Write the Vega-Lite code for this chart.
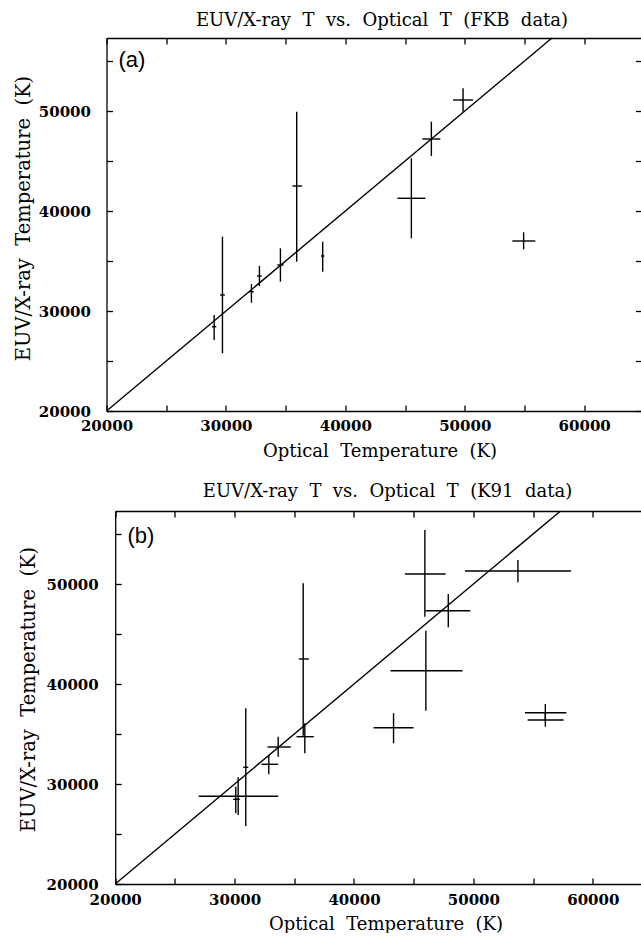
{
  "$schema": "https://vega.github.io/schema/vega-lite/v6.json",
  "padding": {"left": 12.5, "top": 12, "right": 0, "bottom": 0},
  "config": {
    "view": {"stroke": null},
    "font": "DejaVu Serif",
    "axis": {
      "grid": false,
      "domainColor": "black", "domainWidth": 1.3,
      "tickColor": "black", "tickWidth": 1.3, "tickSize": -6,
      "labelFont": "DejaVu Serif", "labelFontWeight": "bold", "labelFontSize": 15, "labelColor": "black",
      "labelOverlap": false, "labelFlush": false,
      "titleFont": "DejaVu Serif", "titleFontWeight": "normal", "titleFontSize": 18, "titleColor": "black"
    },
    "title": {"font": "DejaVu Serif", "fontSize": 18, "fontWeight": "normal", "color": "black", "baseline": "alphabetic", "anchor": "middle"}
  },
  "datasets": {
    "fkb": [
      {"x": 29015, "xlo": 28835, "xhi": 29195, "y": 28430, "ylo": 27100, "yhi": 29600},
      {"x": 29710, "xlo": 29510, "xhi": 29910, "y": 31600, "ylo": 25770, "yhi": 37430},
      {"x": 32137, "xlo": 31937, "xhi": 32337, "y": 31930, "ylo": 30830, "yhi": 32700},
      {"x": 32806, "xlo": 32606, "xhi": 33006, "y": 33500, "ylo": 32500, "yhi": 34500},
      {"x": 34564, "xlo": 34300, "xhi": 34830, "y": 34600, "ylo": 32930, "yhi": 36270},
      {"x": 35928, "xlo": 35568, "xhi": 36380, "y": 42500, "ylo": 34930, "yhi": 49930},
      {"x": 38104, "xlo": 37964, "xhi": 38244, "y": 35500, "ylo": 33930, "yhi": 36930},
      {"x": 45529, "xlo": 44357, "xhi": 46701, "y": 41270, "ylo": 37270, "yhi": 45270},
      {"x": 47203, "xlo": 46449, "xhi": 47956, "y": 47200, "ylo": 45500, "yhi": 48930},
      {"x": 49856, "xlo": 49019, "xhi": 50693, "y": 51100, "ylo": 49930, "yhi": 52270},
      {"x": 54929, "xlo": 53982, "xhi": 55907, "y": 37000, "ylo": 36170, "yhi": 37870}
    ],
    "k91": [
      {"x": 30098, "xlo": 29880, "xhi": 30433, "y": 28470, "ylo": 27070, "yhi": 29730},
      {"x": 30299, "xlo": 26997, "xhi": 33651, "y": 28770, "ylo": 26900, "yhi": 30670},
      {"x": 30936, "xlo": 30726, "xhi": 31146, "y": 31670, "ylo": 25800, "yhi": 37570},
      {"x": 32863, "xlo": 32252, "xhi": 33651, "y": 31970, "ylo": 30970, "yhi": 32900},
      {"x": 33651, "xlo": 32754, "xhi": 34707, "y": 33700, "ylo": 32730, "yhi": 34730},
      {"x": 35746, "xlo": 35378, "xhi": 36216, "y": 42500, "ylo": 34830, "yhi": 50070},
      {"x": 35880, "xlo": 35185, "xhi": 36635, "y": 34730, "ylo": 33070, "yhi": 36070},
      {"x": 43313, "xlo": 41637, "xhi": 44989, "y": 35630, "ylo": 34070, "yhi": 37070},
      {"x": 46020, "xlo": 43062, "xhi": 49087, "y": 41330, "ylo": 37330, "yhi": 45330},
      {"x": 45936, "xlo": 44260, "xhi": 47671, "y": 51000, "ylo": 46730, "yhi": 55400},
      {"x": 47897, "xlo": 45996, "xhi": 49740, "y": 47330, "ylo": 45670, "yhi": 49000},
      {"x": 53730, "xlo": 49288, "xhi": 58171, "y": 51300, "ylo": 50170, "yhi": 52400},
      {"x": 56025, "xlo": 54316, "xhi": 57786, "y": 37130, "ylo": 36300, "yhi": 38000},
      {"x": 56025, "xlo": 54543, "xhi": 57560, "y": 36400, "ylo": 35730, "yhi": 37100}
    ],
    "diag": [{"x": 20000, "y": 20000, "x2": 57300, "y2": 57300}]
  },
  "concat": [
    {
      "width": 535, "height": 373,
      "title": {"text": "EUV/X-ray\u00a0 T\u00a0 vs.\u00a0 Optical\u00a0 T\u00a0 (FKB\u00a0 data)", "offset": 7, "dx": 8},
      "layer": [
        {
          "data": {"name": "fkb"},
          "mark": {"type": "rule", "color": "black", "strokeWidth": 1.4},
          "encoding": {
            "x": {"field": "x", "type": "quantitative", "scale": {"domain": [20000, 64800], "nice": false, "zero": false},
              "axis": {"orient": "bottom", "values": [20000, 25000, 30000, 35000, 40000, 45000, 50000, 55000, 60000],
                "labelExpr": "datum.value % 10000 === 0 ? format(datum.value, 'd') : ''",
                "title": "Optical\u00a0 Temperature\u00a0 (K)", "labelPadding": 13, "titlePadding": 9, "titleX": 273}},
            "y": {"field": "ylo", "type": "quantitative", "scale": {"domain": [20000, 57300], "nice": false, "zero": false},
              "axis": {"orient": "left", "values": [20000, 25000, 30000, 35000, 40000, 45000, 50000, 55000],
                "labelExpr": "datum.value % 10000 === 0 ? format(datum.value, 'd') : ''",
                "title": "EUV/X-ray\u00a0 Temperature\u00a0 (K)", "titleFontSize": 19.5, "labelPadding": 22, "titlePadding": 5, "titleY": 180}},
            "y2": {"field": "yhi"}
          }
        },
        {
          "data": {"name": "fkb"},
          "mark": {"type": "rule", "color": "black", "strokeWidth": 1.4},
          "encoding": {
            "x": {"field": "xlo", "type": "quantitative", "scale": {"domain": [20000, 64800], "nice": false, "zero": false}, "axis": null},
            "x2": {"field": "xhi"},
            "y": {"field": "y", "type": "quantitative", "scale": {"domain": [20000, 57300], "nice": false, "zero": false}, "axis": null}
          }
        },
        {
          "data": {"name": "diag"},
          "mark": {"type": "rule", "color": "black", "strokeWidth": 1.4},
          "encoding": {
            "x": {"field": "x", "type": "quantitative", "scale": {"domain": [20000, 64800], "nice": false, "zero": false},
              "axis": {"orient": "top", "labels": false, "title": null, "values": [20000, 25000, 30000, 35000, 40000, 45000, 50000, 55000, 60000]}},
            "x2": {"field": "x2"},
            "y": {"field": "y", "type": "quantitative", "scale": {"domain": [20000, 57300], "nice": false, "zero": false},
              "axis": {"orient": "right", "labels": false, "title": null, "values": [20000, 25000, 30000, 35000, 40000, 45000, 50000, 55000]}},
            "y2": {"field": "y2"}
          }
        },
        {
          "data": {"values": [{"x": 21005, "y": 54430, "label": "(a)"}]},
          "mark": {"type": "text", "font": "Liberation Sans", "fontSize": 22, "align": "left", "baseline": "alphabetic", "color": "black"},
          "encoding": {
            "x": {"field": "x", "type": "quantitative", "scale": {"domain": [20000, 64800], "nice": false, "zero": false}, "axis": null},
            "y": {"field": "y", "type": "quantitative", "scale": {"domain": [20000, 57300], "nice": false, "zero": false}, "axis": null},
            "text": {"field": "label"}
          }
        }
      ],
      "resolve": {"axis": {"x": "independent", "y": "independent"}}
    },
    {
      "width": 536, "height": 373,
      "title": {"text": "EUV/X-ray\u00a0 T\u00a0 vs.\u00a0 Optical\u00a0 T\u00a0 (K91\u00a0 data)", "offset": 9.5, "dx": 13},
      "layer": [
        {
          "data": {"name": "k91"},
          "mark": {"type": "rule", "color": "black", "strokeWidth": 1.4},
          "encoding": {
            "x": {"field": "x", "type": "quantitative", "scale": {"domain": [20000, 64163], "nice": false, "zero": false, "rangeMin": 8.7},
              "axis": {"orient": "bottom", "values": [20000, 25000, 30000, 35000, 40000, 45000, 50000, 55000, 60000],
                "labelExpr": "datum.value % 10000 === 0 ? format(datum.value, 'd') : ''",
                "title": "Optical\u00a0 Temperature\u00a0 (K)", "labelPadding": 14, "titlePadding": 8, "titleX": 279}},
            "y": {"field": "ylo", "type": "quantitative", "scale": {"domain": [20000, 57300], "nice": false, "zero": false},
              "axis": {"orient": "left", "offset": -8.7, "values": [20000, 25000, 30000, 35000, 40000, 45000, 50000, 55000],
                "labelExpr": "datum.value % 10000 === 0 ? format(datum.value, 'd') : ''",
                "title": "EUV/X-ray\u00a0 Temperature\u00a0 (K)", "titleFontSize": 19.5, "labelPadding": 23, "titlePadding": 7.5, "titleY": 178}},
            "y2": {"field": "yhi"}
          }
        },
        {
          "data": {"name": "k91"},
          "mark": {"type": "rule", "color": "black", "strokeWidth": 1.4},
          "encoding": {
            "x": {"field": "xlo", "type": "quantitative", "scale": {"domain": [20000, 64163], "nice": false, "zero": false, "rangeMin": 8.7}, "axis": null},
            "x2": {"field": "xhi"},
            "y": {"field": "y", "type": "quantitative", "scale": {"domain": [20000, 57300], "nice": false, "zero": false}, "axis": null}
          }
        },
        {
          "data": {"name": "diag"},
          "mark": {"type": "rule", "color": "black", "strokeWidth": 1.4},
          "encoding": {
            "x": {"field": "x", "type": "quantitative", "scale": {"domain": [20000, 64163], "nice": false, "zero": false, "rangeMin": 8.7},
              "axis": {"orient": "top", "labels": false, "title": null, "values": [20000, 25000, 30000, 35000, 40000, 45000, 50000, 55000, 60000]}},
            "x2": {"field": "x2"},
            "y": {"field": "y", "type": "quantitative", "scale": {"domain": [20000, 57300], "nice": false, "zero": false}, "axis": null},
            "y2": {"field": "y2"}
          }
        },
        {
          "data": {"values": [{"x": 21020, "y": 54130, "label": "(b)"}]},
          "mark": {"type": "text", "font": "Liberation Sans", "fontSize": 22, "align": "left", "baseline": "alphabetic", "color": "black"},
          "encoding": {
            "x": {"field": "x", "type": "quantitative", "scale": {"domain": [20000, 64163], "nice": false, "zero": false, "rangeMin": 8.7}, "axis": null},
            "y": {"field": "y", "type": "quantitative", "scale": {"domain": [20000, 57300], "nice": false, "zero": false}, "axis": null},
            "text": {"field": "label"}
          }
        }
      ],
      "resolve": {"axis": {"x": "independent", "y": "independent"}}
    }
  ],
  "columns": 1,
  "align": "none",
  "spacing": 22
}
